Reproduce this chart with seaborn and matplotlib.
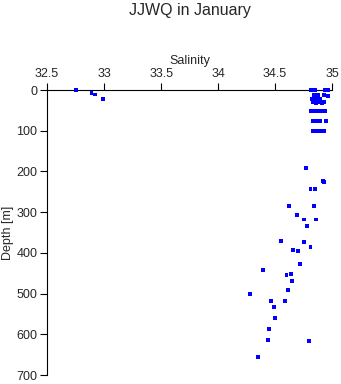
import matplotlib
matplotlib.use("Agg")
import matplotlib.pyplot as plt
import seaborn as sns
import pandas as pd

# Salinity / depth observations
salinity = [
    32.75, 32.89, 32.92, 32.99,
    34.81, 34.83, 34.85, 34.94, 34.96,
    34.84, 34.86, 34.88, 34.93, 34.96,
    34.82, 34.84, 34.86, 34.89,
    34.83, 34.86, 34.88, 34.91, 34.93,
    34.81, 34.84, 34.87, 34.90, 34.94,
    34.83, 34.86, 34.89, 34.95,
    34.83, 34.86, 34.89, 34.93,
    34.77, 34.92, 34.93, 34.81, 34.85, 34.62, 34.84, 34.69, 34.75, 34.86,
    34.78, 34.55, 34.75, 34.81, 34.66, 34.70, 34.72, 34.39, 34.60, 34.64,
    34.65, 34.61, 34.28, 34.46, 34.59, 34.49, 34.50, 34.45, 34.44, 34.80,
    34.35,
]
depth = [
    0, 7, 11, 21,
    0, 0, 0, 0, 0,
    12, 12, 12, 12, 14,
    22, 22, 23, 22,
    30, 31, 30, 31, 30,
    52, 52, 52, 52, 52,
    76, 76, 76, 76,
    100, 100, 100, 100,
    192, 224, 227, 242, 244, 286, 286, 308, 318, 318,
    335, 371, 373, 385, 393, 396, 427, 443, 455, 453,
    468, 492, 502, 519, 519, 532, 561, 586, 613, 617,
    655,
]
x_ticks = [32.5, 33, 33.5, 34, 34.5, 35]
x_tick_labels = ["32.5", "33", "33.5", "34", "34.5", "35"]
y_ticks = [0, 100, 200, 300, 400, 500, 600, 700]

df = pd.DataFrame({"Salinity": salinity, "Depth": depth})

sns.set_style("ticks")
plt.rcParams["font.family"] = ["Liberation Sans", "DejaVu Sans"]

fig = plt.figure(figsize=(3.41, 3.84), dpi=100)
ax = fig.add_axes([0.138, 0.0234, 0.836, 0.7422])

sns.scatterplot(data=df, x="Salinity", y="Depth", ax=ax, marker="s",
                s=8, color="#0000ff", edgecolor="none", linewidth=0,
                zorder=5, clip_on=False)

ax.set_xlim(32.5, 35)
ax.set_ylim(700, 0)
ax.set_xticks(x_ticks)
ax.set_xticklabels(x_tick_labels)
ax.set_yticks(y_ticks)
ax.xaxis.tick_top()
ax.xaxis.set_label_position("top")
ax.set_xlabel("Salinity", fontsize=9, labelpad=3)
ax.set_ylabel("Depth [m]", fontsize=9, labelpad=2)
ax.tick_params(axis="both", labelsize=9, length=5, width=0.8, pad=2, color="black")
for side in ["right", "bottom"]:
    ax.spines[side].set_visible(False)
for side in ["top", "left"]:
    ax.spines[side].set_linewidth(0.8)
    ax.spines[side].set_color("black")

fig.text(0.5557, 1 - 10 / 384, "JJWQ in January", ha="center", va="center",
         fontsize=11.5)

fig.savefig("out.png", dpi=100)
